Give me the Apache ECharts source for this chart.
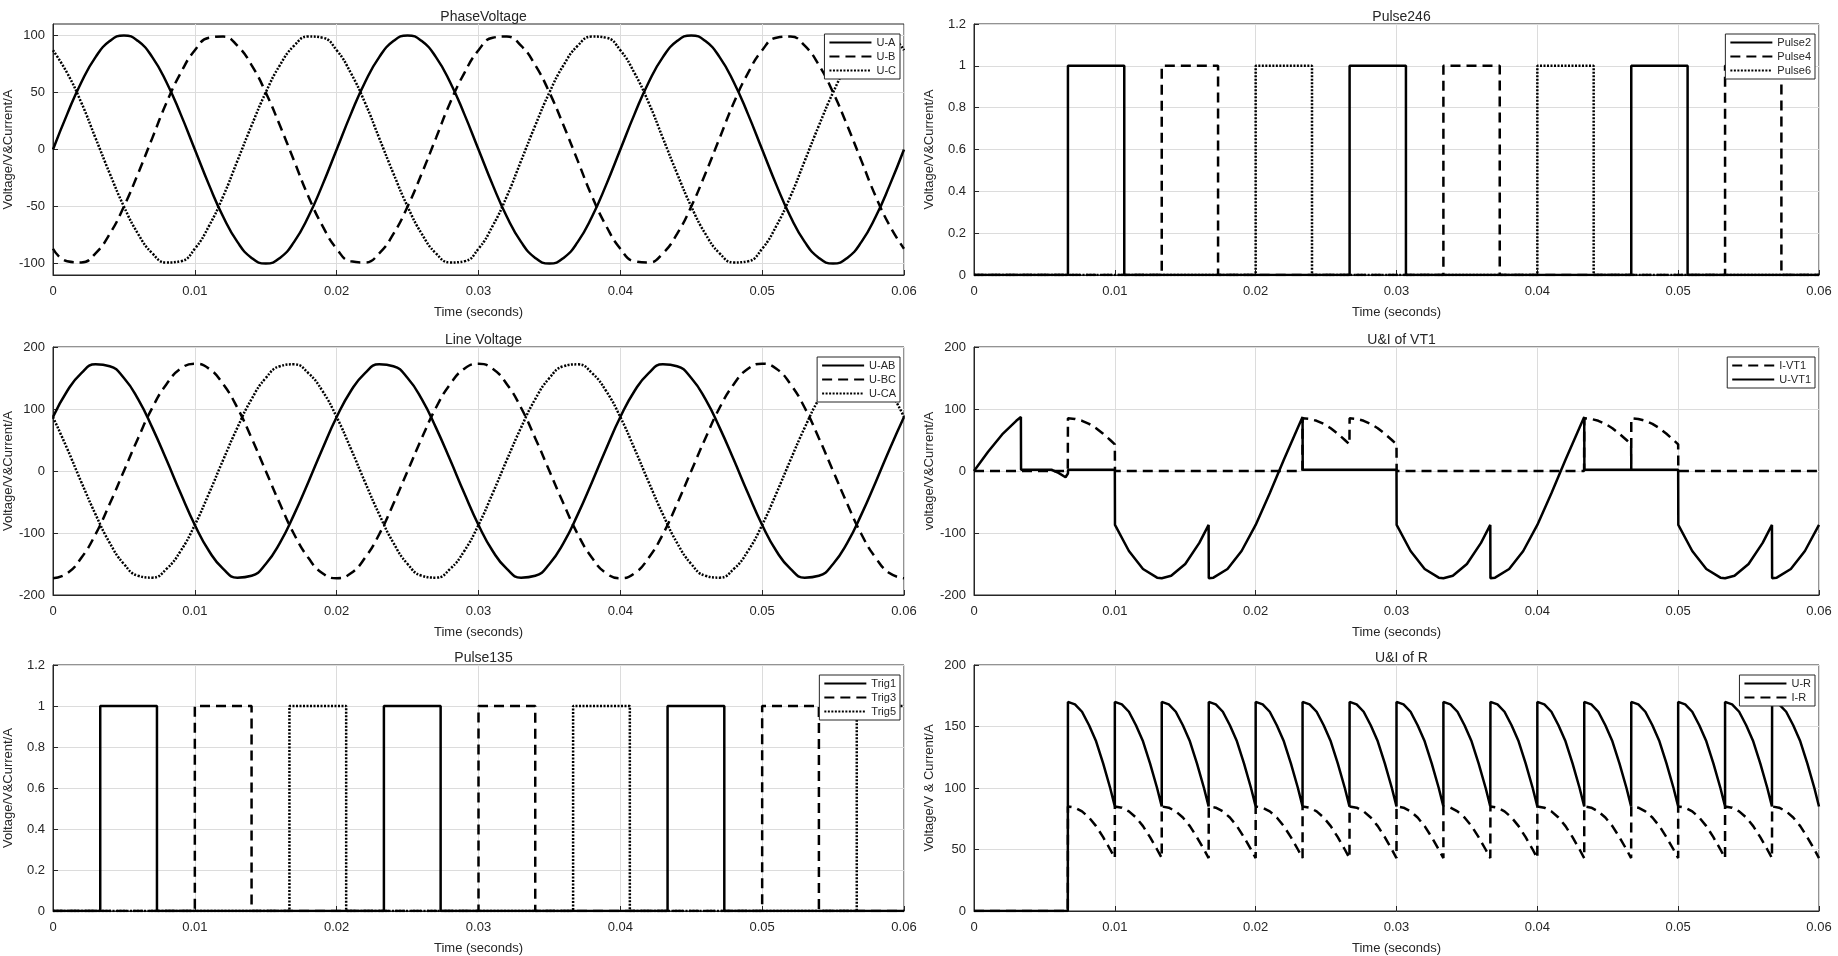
<!DOCTYPE html>
<html><head><meta charset="utf-8">
<script src="https://cdn.jsdelivr.net/npm/echarts@6/dist/echarts.min.js"></script>
<style>html,body{margin:0;padding:0;background:#fff}#c{width:1838px;height:956px}</style>
</head><body><div id="c"></div>
<script>
// ---------- data ----------
const X_TICKS = [0, 0.01, 0.02, 0.03, 0.04, 0.05, 0.06];
// sampled every 1 ms, 0 .. 0.06 s
const T_STEP = 0.001;
const U_A = [0,31,59,81,95,100,95,81,59,31,0,-31,-59,-81,-95,-100,-95,-81,-59,-31,
             0,31,59,81,95,100,95,81,59,31,0,-31,-59,-81,-95,-100,-95,-81,-59,-31,
             0,31,59,81,95,100,95,81,59,31,0,-31,-59,-81,-95,-100,-95,-81,-59,-31,0];
const U_B = [-87,-98,-99,-91,-74,-50,-21,10,41,67,87,98,99,91,74,50,21,-10,-41,-67,
             -87,-98,-99,-91,-74,-50,-21,10,41,67,87,98,99,91,74,50,21,-10,-41,-67,
             -87,-98,-99,-91,-74,-50,-21,10,41,67,87,98,99,91,74,50,21,-10,-41,-67,-87];
const U_C = [87,67,41,10,-21,-50,-74,-91,-99,-98,-87,-67,-41,-10,21,50,74,91,99,98,
             87,67,41,10,-21,-50,-74,-91,-99,-98,-87,-67,-41,-10,21,50,74,91,99,98,
             87,67,41,10,-21,-50,-74,-91,-99,-98,-87,-67,-41,-10,21,50,74,91,99,98,87];
const U_AB = [87,129,158,172,169,150,116,70,18,-36,-87,-129,-158,-172,-169,-150,-116,-70,-18,36,
              87,129,158,172,169,150,116,70,18,-36,-87,-129,-158,-172,-169,-150,-116,-70,-18,36,
              87,129,158,172,169,150,116,70,18,-36,-87,-129,-158,-172,-169,-150,-116,-70,-18,36,87];
const U_BC = [-173,-165,-140,-102,-53,0,53,102,140,165,173,165,140,102,53,0,-53,-102,-140,-165,
              -173,-165,-140,-102,-53,0,53,102,140,165,173,165,140,102,53,0,-53,-102,-140,-165,
              -173,-165,-140,-102,-53,0,53,102,140,165,173,165,140,102,53,0,-53,-102,-140,-165,-173];
const U_CA = [87,36,-18,-70,-116,-150,-169,-172,-158,-129,-87,-36,18,70,116,150,169,172,158,129,
              87,36,-18,-70,-116,-150,-169,-172,-158,-129,-87,-36,18,70,116,150,169,172,158,129,
              87,36,-18,-70,-116,-150,-169,-172,-158,-129,-87,-36,18,70,116,150,169,172,158,129,87];

// pulses: on / off instants (s)
const PULSE2_ON = [0.00667,0.02667,0.04667], PULSE2_OFF = [0.01067,0.03067,0.05067];
const PULSE4_ON = [0.01333,0.03333,0.05333], PULSE4_OFF = [0.01733,0.03733,0.05733];
const PULSE6_ON = [0.02,0.04],              PULSE6_OFF = [0.024,0.044];
const TRIG1_ON = [0.00333,0.02333,0.04333], TRIG1_OFF = [0.00733,0.02733,0.04733];
const TRIG3_ON = [0.01,0.03,0.05],          TRIG3_OFF = [0.014,0.034,0.054];
const TRIG5_ON = [0.01667,0.03667,0.05667], TRIG5_OFF = [0.02067,0.04067,0.06];

// thyristor VT1 voltage [t, v]
const U_VT1 = [[0,0],[0.001,31],[0.002,59],[0.003,81],[0.00333,87],[0.00334,2],[0.0055,2],[0.006,-3],[0.0065,-10],[0.00667,-4],[0.00668,2],[0.01,2],
 [0.01001,-87],[0.011,-129],[0.012,-158],[0.013,-172],[0.01333,-173],[0.014,-169],[0.015,-150],[0.016,-116],[0.01666,-87],[0.01667,-173],[0.017,-172],[0.018,-158],[0.019,-129],[0.02,-87],[0.021,-36],[0.022,18],[0.023,70],[0.02333,87],[0.02334,2],[0.03,2],
 [0.03001,-87],[0.031,-129],[0.032,-158],[0.033,-172],[0.03333,-173],[0.034,-169],[0.035,-150],[0.036,-116],[0.03666,-87],[0.03667,-173],[0.037,-172],[0.038,-158],[0.039,-129],[0.04,-87],[0.041,-36],[0.042,18],[0.043,70],[0.04333,87],[0.04334,2],[0.05,2],
 [0.05001,-87],[0.051,-129],[0.052,-158],[0.053,-172],[0.05333,-173],[0.054,-169],[0.055,-150],[0.056,-116],[0.05666,-87],[0.05667,-173],[0.057,-172],[0.058,-158],[0.059,-129],[0.06,-87]];

// one conduction interval (60 deg) profile, offsets in s
const DOME_DT = [0,0.0005,0.001,0.0015,0.002,0.0025,0.003,0.00333];
const DOME_U  = [170,168,162,151,138,120,100,85];
const DOME_I  = [85,84,81,76,69,60,50,43];
const VT1_I_STARTS = [0.00667,0.02333,0.02667,0.04333,0.04667];
const R_STARTS = [0.00667,0.01,0.01333,0.01667,0.02,0.02333,0.02667,0.03,0.03333,0.03667,0.04,0.04333,0.04667,0.05,0.05333,0.05667];

// ---------- build ----------
const r5 = v => Math.round(v*1e6)/1e6;
const wave = arr => arr.map((v,i)=>[r5(i*T_STEP), v]);
function pulse(on, off){
  const p=[[0,0]];
  on.forEach((a,i)=>{const b=off[i]; p.push([a,0],[a,1],[b,1]); if(b<0.06) p.push([b,0]);});
  if (p[p.length-1][0] < 0.06) p.push([0.06, p[p.length-1][1]]);
  return p;
}
function domes(starts, prof, withZero){
  const p=[[0,0]]; let prevEnd=null;
  starts.forEach(s=>{
    if (withZero && prevEnd!==null && Math.abs(prevEnd-s)>1e-5){ p.push([r5(prevEnd+0.00001),0],[r5(s-0.00001),0]); }
    else if (prevEnd===null) p.push([r5(s-0.00001),0]);
    DOME_DT.forEach((d,i)=>{ const t=r5(s+d); if(t<=0.06) p.push([t,prof[i]]); });
    prevEnd = r5(s+DOME_DT[DOME_DT.length-1]);
  });
  if (withZero && prevEnd<0.06) p.push([r5(prevEnd+0.00001),0],[0.06,0]);
  return p;
}

// ---------- layout ----------
const L = [53, 904], R = [974, 1819];
const ROWS = [[24,275],[347,595],[665,912]];
const FONT = "'Liberation Sans Narrow','Liberation Sans',Arial,sans-serif";
const TXT = '#262626';
const grids=[], xAxes=[], yAxes=[], titles=[], legends=[], series=[];
const DASH=[10,6], DOT=[2,1.5];

function panel(col,row,title,ymin,ymax,yint,yname,legendNames){
  const xs = col===0?L:R, ys=ROWS[row]; const gi=grids.length;
  grids.push({left:xs[0], top:ys[0], width:xs[1]-xs[0], height:ys[1]-ys[0], show:true, borderColor:TXT, borderWidth:1, backgroundColor:'#fff'});
  xAxes.push({type:'value', gridIndex:gi, min:0, max:0.06, interval:0.01,
    axisLine:{show:true, onZero:false, lineStyle:{color:TXT}}, axisTick:{inside:true,length:5,lineStyle:{color:TXT}},
    axisLabel:{color:TXT, fontSize:13, fontFamily:FONT, margin:10, formatter:v=>String(Number(v.toFixed(3)))},
    splitLine:{show:true, lineStyle:{color:'#dcdcdc', width:1}},
    name:'Time (seconds)', nameLocation:'middle', nameGap:31, nameTextStyle:{color:TXT,fontSize:13,fontFamily:FONT}});
  const y = {type:'value', gridIndex:gi, min:ymin, max:ymax,
    axisLine:{show:true, onZero:false, lineStyle:{color:TXT}}, axisTick:{inside:true,length:5,lineStyle:{color:TXT}},
    axisLabel:{color:TXT, fontSize:13, fontFamily:FONT, margin:8},
    splitLine:{show:true, lineStyle:{color:'#dcdcdc', width:1}},
    name:yname, nameLocation:'middle', nameGap:38, nameTextStyle:{color:TXT,fontSize:13,fontFamily:FONT}};
  if (yint) y.interval=yint;
  yAxes.push(y);
  titles.push({text:title, left:(xs[0]+xs[1])/2, top:ys[0]-19, textAlign:'center',
    textStyle:{fontSize:14, fontWeight:'normal', color:TXT, fontFamily:FONT}});
  legends.push({data:legendNames, orient:'vertical', right:1838-xs[1]+4, top:ys[0]+10,
    backgroundColor:'#fff', borderColor:TXT, borderWidth:1, padding:[3,4,3,4], itemGap:3,
    itemWidth:42, itemHeight:10, itemStyle:{opacity:0, borderWidth:0},
    textStyle:{fontSize:11, color:TXT, fontFamily:FONT}});
  return gi;
}
function line(gi,name,data,type,smooth){
  series.push({type:'line', name, xAxisIndex:gi, yAxisIndex:gi, data, showSymbol:false, symbol:'none',
    smooth:!!smooth, animation:false, clip:true,
    lineStyle:{color:'#000', width:2.5, type:type||'solid'}, itemStyle:{color:'#000'}});
}

let g;
g = panel(0,0,'PhaseVoltage',-110,110,null,'Voltage/V&Current/A',['U-A','U-B','U-C']);
yAxes[g].axisLabel.customValues=[-100,-50,0,50,100];
yAxes[g].axisTick.customValues=[-100,-50,0,50,100];
yAxes[g].splitLine.show=false;
line(g,'U-A',wave(U_A),'solid',0.4); line(g,'U-B',wave(U_B),DASH,0.4); line(g,'U-C',wave(U_C),DOT,0.4);
series[series.length-3].markLine={silent:true, symbol:'none', label:{show:false}, lineStyle:{color:'#dcdcdc',width:1,type:'solid'},
  data:[-100,-50,0,50,100].map(v=>({yAxis:v})), z:0};

g = panel(1,0,'Pulse246',0,1.2,0.2,'Voltage/V&Current/A',['Pulse2','Pulse4','Pulse6']);
line(g,'Pulse2',pulse(PULSE2_ON,PULSE2_OFF),'solid'); line(g,'Pulse4',pulse(PULSE4_ON,PULSE4_OFF),DASH); line(g,'Pulse6',pulse(PULSE6_ON,PULSE6_OFF),DOT);

g = panel(0,1,'Line Voltage',-200,200,100,'Voltage/V&Current/A',['U-AB','U-BC','U-CA']);
line(g,'U-AB',wave(U_AB),'solid',0.4); line(g,'U-BC',wave(U_BC),DASH,0.4); line(g,'U-CA',wave(U_CA),DOT,0.4);

g = panel(1,1,'U&I of VT1',-200,200,100,'voltage/V&Current/A',['I-VT1','U-VT1']);
line(g,'U-VT1',U_VT1,'solid'); line(g,'I-VT1',domes(VT1_I_STARTS,DOME_I,true),DASH);

g = panel(0,2,'Pulse135',0,1.2,0.2,'Voltage/V&Current/A',['Trig1','Trig3','Trig5']);
line(g,'Trig1',pulse(TRIG1_ON,TRIG1_OFF),'solid'); line(g,'Trig3',pulse(TRIG3_ON,TRIG3_OFF),DASH); line(g,'Trig5',pulse(TRIG5_ON,TRIG5_OFF),DOT);

g = panel(1,2,'U&I of R',0,200,50,'Voltage/V & Current/A',['U-R','I-R']);
line(g,'U-R',domes(R_STARTS,DOME_U,false),'solid'); line(g,'I-R',domes(R_STARTS,DOME_I,false),DASH);

const chart = echarts.init(document.getElementById('c'), null, {renderer:'canvas'});
chart.setOption({animation:false, backgroundColor:'#fff', grid:grids, xAxis:xAxes, yAxis:yAxes, title:titles, legend:legends, series});
</script></body></html>
